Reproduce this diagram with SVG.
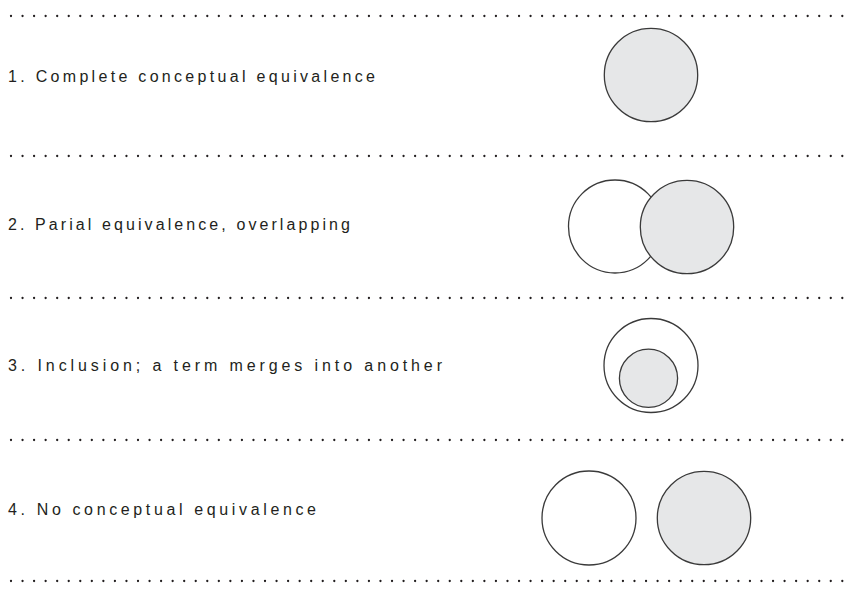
<svg xmlns="http://www.w3.org/2000/svg" width="851" height="594" viewBox="0 0 851 594">
<defs>
<style>
.dots{stroke:#231f20;stroke-width:2.3;stroke-linecap:round;stroke-dasharray:0 11.546;fill:none}
.lbl{font-family:"Liberation Sans",Arial,sans-serif;font-size:16px;fill:#231f20}
.c{stroke:#3a3a3a;stroke-width:1.3}
.w{fill:#ffffff}
.g{fill:#e6e7e8}
</style>
</defs>
<rect width="851" height="594" fill="#ffffff"/>
<g id="separators">
<line class="dots" x1="11" y1="16" x2="843" y2="16"/>
<line class="dots" x1="11" y1="156" x2="843" y2="156"/>
<line class="dots" x1="11" y1="298" x2="843" y2="298"/>
<line class="dots" x1="11" y1="440" x2="843" y2="440"/>
<line class="dots" x1="11" y1="581" x2="843" y2="581"/>
</g>
<g id="row1">
<text class="lbl" x="8" y="82" textLength="367" lengthAdjust="spacing">1. Complete conceptual equivalence</text>
<circle class="c g" cx="651" cy="75" r="46.7"/>
</g>
<g id="row2">
<text class="lbl" x="8" y="230" textLength="342" lengthAdjust="spacing">2. Parial equivalence, overlapping</text>
<circle class="c w" cx="615" cy="226.5" r="46.5"/>
<circle class="c g" cx="687" cy="227" r="46.7"/>
</g>
<g id="row3">
<text class="lbl" x="8" y="371" textLength="434" lengthAdjust="spacing">3. Inclusion; a term merges into another</text>
<circle class="c w" cx="651" cy="365.5" r="47"/>
<circle class="c g" cx="648.5" cy="378.3" r="29.1"/>
</g>
<g id="row4">
<text class="lbl" x="8" y="515" textLength="308" lengthAdjust="spacing">4. No conceptual equivalence</text>
<circle class="c w" cx="589" cy="518" r="47"/>
<circle class="c g" cx="704" cy="518" r="46.7"/>
</g>
</svg>
